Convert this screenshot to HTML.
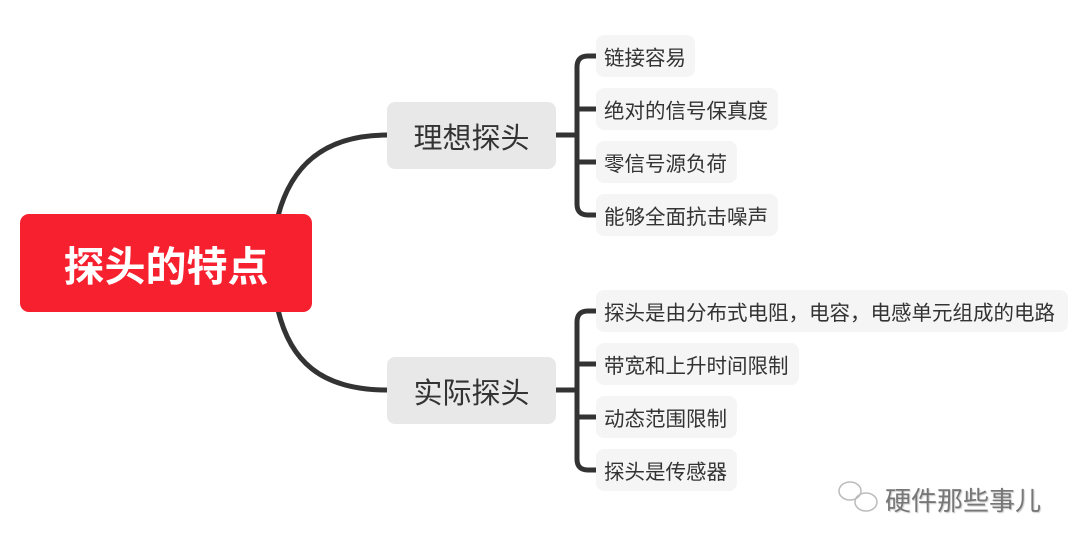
<!DOCTYPE html>
<html><head><meta charset="utf-8"><style>
body{margin:0;width:1080px;height:549px;background:#fff;position:relative;overflow:hidden;font-family:"Liberation Sans","Noto Sans CJK SC",sans-serif}
.b{position:absolute;display:flex;align-items:center;justify-content:center;box-sizing:border-box}
.leaf{background:#f5f5f5;border-radius:8px;font-size:20.5px;color:#333;padding-left:8px;justify-content:flex-start;height:42px;white-space:nowrap}
.mid{background:#e8e8e8;border-radius:8px;font-size:29px;color:#333;width:169px;height:67px}
</style></head><body>
<svg width="1080" height="549" style="position:absolute;left:0;top:0">
<g fill="none" stroke="#333" stroke-width="5" stroke-linecap="round">
<path d="M278 216 C290 170 320 135 387 135"/>
<path d="M278 310 C290 360 320 390 387 390"/>
<path d="M556 135 H577"/>
<path d="M596 56 H588 Q577 56 577 67 V204 Q577 215 588 215 H596"/>
<path d="M577 109 H596 M577 162 H596"/>
<path d="M556 390 H577"/>
<path d="M596 311 H588 Q577 311 577 322 V459 Q577 470 588 470 H596"/>
<path d="M577 364 H596 M577 417 H596"/>
</g>
<g fill="none" stroke="#bbb" stroke-width="1.5">
<ellipse cx="850" cy="491" rx="11" ry="9"/><ellipse cx="866" cy="502" rx="11" ry="9"/>
</g>
</svg>
<div class="b" style="left:20px;top:214px;width:292px;height:98px;background:#f7202f;border-radius:9px;color:#fff;font-size:41px;font-weight:bold">探头的特点</div>
<div class="b mid" style="left:387px;top:102px">理想探头</div>
<div class="b mid" style="left:387px;top:357px">实际探头</div>
<div class="b leaf" style="left:596px;top:35px;width:99px">链接容易</div>
<div class="b leaf" style="left:596px;top:88px;width:182px">绝对的信号保真度</div>
<div class="b leaf" style="left:596px;top:141px;width:141px">零信号源负荷</div>
<div class="b leaf" style="left:596px;top:194px;width:182px">能够全面抗击噪声</div>
<div class="b leaf" style="left:596px;top:290px;width:472px">探头是由分布式电阻，电容，电感单元组成的电路</div>
<div class="b leaf" style="left:596px;top:343px;width:203px">带宽和上升时间限制</div>
<div class="b leaf" style="left:596px;top:396px;width:141px">动态范围限制</div>
<div class="b leaf" style="left:596px;top:449px;width:141px">探头是传感器</div>
<div class="b" style="left:885px;top:481px;font-size:26px;color:#777;text-shadow:1px 1px 1px #ccc">硬件那些事儿</div>
</body></html>
